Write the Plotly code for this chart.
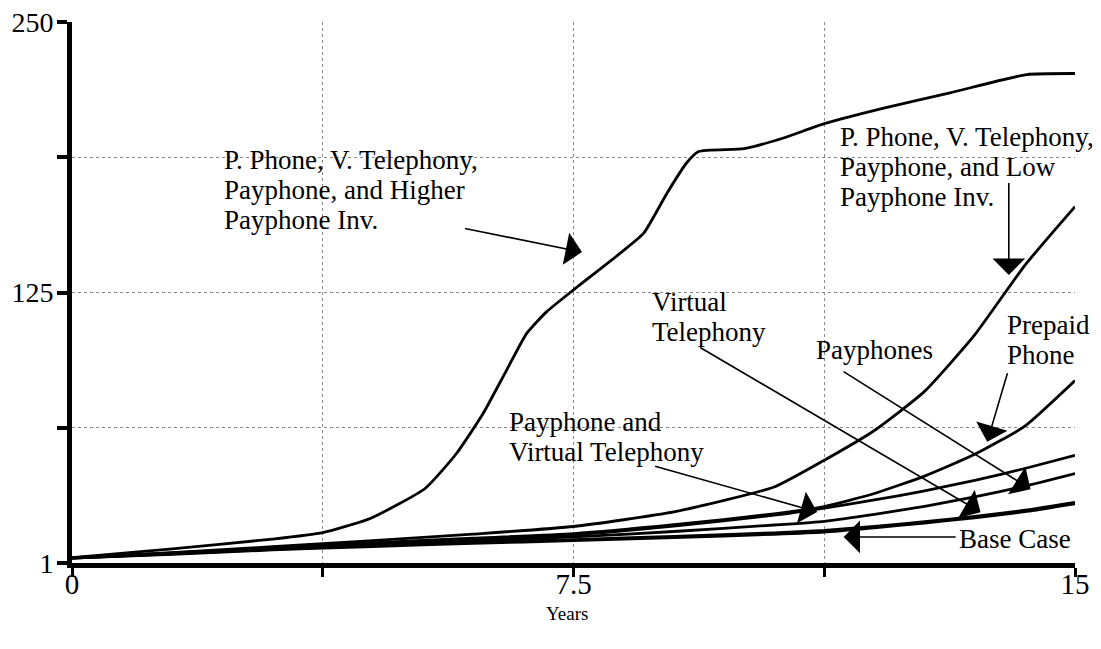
import plotly.graph_objects as go

# simulation output
years = [0, 1.5, 3, 4.5, 6, 7.5, 9, 10.5, 11.25, 12, 12.75, 13.5, 14.25, 15]
base_case = [3.2, 5.0, 7.0, 8.6, 10.0, 11.3, 12.7, 14.2, 15.2, 17.2, 19.4, 21.8, 24.6, 28.2]
virtual_telephony = [3.3, 5.2, 7.3, 9.0, 10.5, 11.8, 13.3, 14.9, 16.0, 17.9, 20.0, 22.5, 25.3, 28.9]
payphones = [3.3, 5.3, 7.6, 9.5, 11.3, 13.0, 15.5, 18.5, 20.2, 23.4, 27.1, 31.4, 36.4, 42.2]
payphone_vt = [3.4, 5.5, 7.9, 10.0, 12.0, 14.0, 18.0, 23.0, 26.3, 30.0, 34.2, 39.0, 44.5, 50.6]
prepaid_phone = [3.4, 5.6, 8.1, 10.3, 12.4, 14.5, 18.6, 23.6, 27.0, 33.0, 41.0, 51.0, 64.0, 85.0]
low_payphone_inv = [3.5, 5.8, 8.5, 11.3, 14.3, 17.8, 24.5, 36.0, 48.3, 62.0, 80.0, 106.0, 138.0, 165.0]

higher_years = [0, 1.5, 3.0, 3.75, 4.46, 5.28, 5.75, 6.15, 6.5, 6.8, 7.1, 7.5, 8.2, 8.55,
                8.9, 9.19, 9.37, 10.05, 10.64, 11.25, 12.14, 13.13, 14.28, 15]
higher_payphone_inv = [3.5, 7.5, 12.0, 15.0, 21.5, 35.3, 51.4, 69.9, 89.8, 106.7, 116.7, 126.7, 143.6, 152.8,
                       171.3, 185.1, 190.4, 191.7, 196.6, 203.2, 210.4, 217.4, 225.8, 226.3]

x_ticks = [0, 3.75, 7.5, 11.25, 15]
x_tick_text = ["0", "", "7.5", "", "15"]
y_ticks = [1, 63.25, 125.5, 187.75, 250]
y_tick_text = ["1", "", "125", "", "250"]

FONT = "Liberation Serif, Times New Roman, serif"
LINE_STEP = 13.8  # ~30px of the y axis between label lines

fig = go.Figure()

series = [
    (years, base_case, "Base Case"),
    (years, virtual_telephony, "Virtual Telephony"),
    (years, payphones, "Payphones"),
    (years, payphone_vt, "Payphone and Virtual Telephony"),
    (years, prepaid_phone, "Prepaid Phone"),
    (years, low_payphone_inv, "Low Payphone Inv."),
    (higher_years, higher_payphone_inv, "Higher Payphone Inv."),
]
for xs, ys, name in series:
    fig.add_trace(go.Scatter(
        x=xs, y=ys, name=name, mode="lines",
        line=dict(color="black", width=2.8, shape="spline", smoothing=0.5),
        showlegend=False
    ))

# text labels: (x, y of first line, lines)
labels = [
    (2.245, 186.5, ["P. Phone, V. Telephony,", "Payphone, and Higher", "Payphone Inv."]),
    (11.45, 197.0, ["P. Phone, V. Telephony,", "Payphone, and Low", "Payphone Inv."]),
    (8.64, 121.3, ["Virtual", "Telephony"]),
    (11.09, 99.0, ["Payphones"]),
    (13.95, 110.5, ["Prepaid", "Phone"]),
    (6.51, 66.0, ["Payphone and", "Virtual Telephony"]),
    (13.24, 12.2, ["Base Case"]),
]
for x, y, lines in labels:
    for i, line in enumerate(lines):
        fig.add_annotation(
            x=x, y=y - i * LINE_STEP, text=line, showarrow=False,
            xanchor="left", yanchor="middle", align="left",
            font=dict(family=FONT, size=27, color="black")
        )

# arrows: tail -> tip
arrows = [
    ((5.855, 155.1), (7.627, 144.1)),
    ((14.01, 176.6), (14.01, 133.6)),
    ((9.372, 100.6), (13.587, 24.4)),
    ((11.517, 89.5), (14.335, 35.0)),
    ((13.996, 89.0), (13.687, 56.8)),
    ((8.698, 45.7), (11.143, 24.5)),
    ((13.238, 13.0), (11.541, 13.0)),
]
for (ax, ay), (x, y) in arrows:
    fig.add_annotation(
        x=x, y=y, ax=ax, ay=ay, xref="x", yref="y", axref="x", ayref="y",
        text="", showarrow=True, arrowhead=1, arrowsize=3.4, arrowwidth=1.6,
        arrowcolor="black", standoff=0
    )

# axis title placed under the axis
fig.add_annotation(
    x=7.41, y=-0.093, xref="x", yref="paper", text="Years", showarrow=False,
    xanchor="center", yanchor="middle", font=dict(family=FONT, size=19, color="black")
)

# the page body adds an 8px offset, so the figure is 8px smaller than the window
fig.update_layout(
    width=1093, height=641,
    margin=dict(l=64, r=26, t=14, b=86),
    paper_bgcolor="white", plot_bgcolor="white",
    font=dict(family=FONT, color="black"),
)
fig.update_xaxes(
    range=[0, 15], tickvals=x_ticks, ticktext=x_tick_text, automargin=False,
    showline=True, linewidth=5, linecolor="black",
    ticks="outside", ticklen=9, tickwidth=3, tickcolor="black",
    tickfont=dict(family=FONT, size=29, color="black"), ticklabelstandoff=-18,
    ticklabeloverflow="allow",
    showgrid=True, gridcolor="#8a8a8a", gridwidth=1, griddash="dot",
    zeroline=False,
)
fig.update_yaxes(
    range=[1, 250], tickvals=y_ticks, ticktext=y_tick_text, automargin=False,
    showline=True, linewidth=5, linecolor="black",
    ticks="outside", ticklen=10, tickwidth=4, tickcolor="black",
    tickfont=dict(family=FONT, size=28, color="black"), ticklabelstandoff=-2,
    ticklabeloverflow="allow",
    showgrid=True, gridcolor="#8a8a8a", gridwidth=1, griddash="dot",
    zeroline=False,
)

fig.write_html("out.html")
